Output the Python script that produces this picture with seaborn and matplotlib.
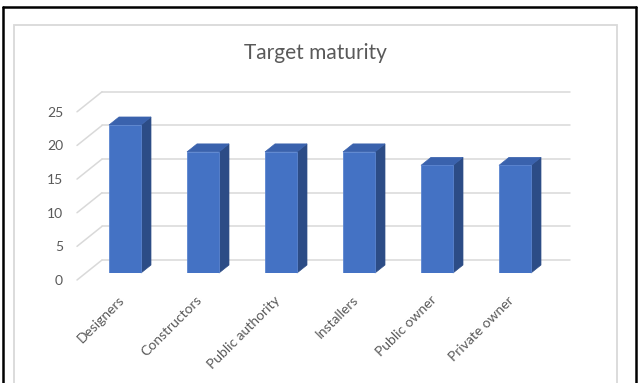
import matplotlib
matplotlib.use("Agg")
import matplotlib.pyplot as plt
import seaborn as sns
import pandas as pd
from matplotlib.patches import Polygon, Rectangle
from matplotlib.lines import Line2D
from matplotlib.transforms import ScaledTranslation

categories = ["Designers", "Constructors", "Public authority", "Installers", "Public owner", "Private owner"]
values = [22, 18, 18, 18, 16, 16]
y_ticks = [0, 5, 10, 15, 20, 25]
title = "Target maturity"

sns.set_theme(style="white")
plt.rcParams["font.family"] = ["Lato", "DejaVu Sans"]

W, H, DPI = 638, 383, 100
fig = plt.figure(figsize=(W / DPI, H / DPI), dpi=DPI)
fig.patch.set_facecolor("white")

# axes = plane of the bar front faces
x_left, x_right, y_bot, y_top = 86, 554, 273, 104.8
ax = fig.add_axes([x_left / W, 1 - y_bot / H, (x_right - x_left) / W, (y_bot - y_top) / H])
ax.set_facecolor("none")

df = pd.DataFrame({"cat": categories, "val": values})
FRONT = "#4472C4"
SIDE = "#2C4C86"
TOP = "#3A62AD"
sns.barplot(data=df, x="cat", y="val", color=FRONT, saturation=1, width=0.41,
            ax=ax, zorder=3, edgecolor="#5B85D0", linewidth=0.6)
ax.set_xlim(-0.5, 5.5)
ax.set_ylim(0, 25)
ax.set_xlabel("")
ax.set_ylabel("")
for s in ax.spines.values():
    s.set_visible(False)

px_x = (x_right - x_left) / 6.0          # px per x data unit
px_y = (y_bot - y_top) / 25.0            # px per y data unit

def d(dx_px, dy_px):
    return dx_px / px_x, dy_px / px_y

# back wall offset and front plane offset relative to bar plane
bdx, bdy = d(16, 13)
fdx, fdy = d(-9, -7)
GRID = "#D9D9D9"
for t in y_ticks:
    ax.add_line(Line2D([-0.5 + bdx, 5.5 + bdx], [t + bdy, t + bdy], color=GRID, lw=1.1,
                       clip_on=False, zorder=1))
    ax.add_line(Line2D([-0.5 + fdx, -0.5 + bdx], [t + fdy, t + bdy], color=GRID, lw=1.1,
                       clip_on=False, zorder=1))

# 3D side and top faces, built from the seaborn bars
sdx, sdy = d(10, 8)
for p in ax.patches:
    x0 = p.get_x()
    x1 = x0 + p.get_width()
    h = p.get_height()
    side = Polygon([(x1, 0), (x1 + sdx, sdy), (x1 + sdx, h + sdy), (x1, h)],
                   closed=True, facecolor=SIDE, edgecolor=SIDE, lw=0.5, zorder=2, clip_on=False)
    top = Polygon([(x0, h), (x1, h), (x1 + sdx, h + sdy), (x0 + sdx, h + sdy)],
                  closed=True, facecolor=TOP, edgecolor=TOP, lw=0.5, zorder=2, clip_on=False)
    ax.add_patch(side)
    ax.add_patch(top)

TXT = "#595959"
ax.set_yticks(y_ticks)
ax.set_yticklabels([str(t) for t in y_ticks])
ax.tick_params(axis="y", length=0, pad=16.5, labelsize=10, labelcolor=TXT)
for lab in ax.get_yticklabels():
    lab.set_transform(lab.get_transform() + ScaledTranslation(0, -7 / DPI, fig.dpi_scale_trans))

ax.set_xticks(range(len(categories)))
ax.set_xticklabels(categories, rotation=45, ha="right", rotation_mode="anchor")
ax.tick_params(axis="x", length=0, pad=15, labelsize=10, labelcolor=TXT)
for lab in ax.get_xticklabels():
    lab.set_transform(lab.get_transform() + ScaledTranslation(-7 / DPI, 0, fig.dpi_scale_trans))

fig.text(315 / W, 1 - 53 / H, title, ha="center", va="center", fontsize=15, color=TXT)

# chart area (gray) and outer black frame
fig.add_artist(Rectangle((14 / W, -0.1), (617 - 14) / W, 1.1 - 25 / H + 0.0,
                         transform=fig.transFigure, fill=False, edgecolor=GRID, lw=1.3))
for xs, ys in [([3 / W, 3 / W], [0, 1 - 7 / H]), ([3 / W, 636 / W], [1 - 7 / H, 1 - 7 / H]),
               ([636 / W, 636 / W], [0, 1 - 7 / H])]:
    fig.add_artist(Line2D(xs, ys, transform=fig.transFigure, color="black", lw=1.8))

fig.savefig("out.png", dpi=DPI)
